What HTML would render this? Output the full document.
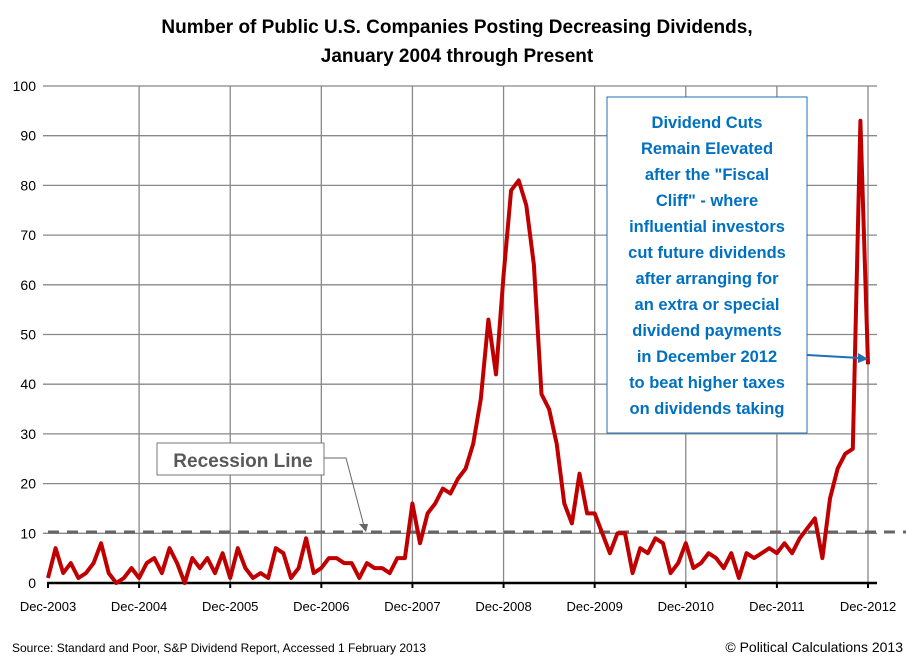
<!DOCTYPE html>
<html><head><meta charset="utf-8"><style>
body{margin:0;background:#fff;font-family:"Liberation Sans",sans-serif;}
svg{display:block}
</style></head><body>
<svg id="chart" width="915" height="663" viewBox="0 0 915 663" xmlns="http://www.w3.org/2000/svg">
<text x="457" y="33" text-anchor="middle" font-size="19" font-weight="bold" font-family="Liberation Sans, sans-serif">Number of Public U.S. Companies Posting Decreasing Dividends,</text>
<text x="457" y="62" text-anchor="middle" font-size="19" font-weight="bold" font-family="Liberation Sans, sans-serif">January 2004 through Present</text>
<g id="grid"></g>
<g id="yticks"></g>
<g id="xticks"></g>
<line x1="48" y1="532" x2="906" y2="532" stroke="#666" stroke-width="3" stroke-dasharray="11,8"/>
<path id="series" fill="none" stroke="#c00000" stroke-width="4" stroke-linejoin="round"/>
<rect x="157" y="443" width="167" height="32" fill="#fff" stroke="#777"/>
<text x="243" y="467" text-anchor="middle" font-size="19" font-weight="bold" fill="#595959">Recession Line</text>
<polyline points="324,458 346,458 364,526" fill="none" stroke="#666" stroke-width="1"/>
<polygon points="359,524 368,524 366,532" fill="#666"/>
<rect x="607" y="97" width="200" height="336" fill="#fff" stroke="#1f6fb4" stroke-width="1"/>
<g font-size="16.5" font-weight="bold" fill="#0070c0" text-anchor="middle">
<text x="707" y="128">Dividend Cuts</text>
<text x="707" y="154">Remain Elevated</text>
<text x="707" y="180">after the "Fiscal</text>
<text x="707" y="206">Cliff" - where</text>
<text x="707" y="232">influential investors</text>
<text x="707" y="258">cut future dividends</text>
<text x="707" y="284">after arranging for</text>
<text x="707" y="310">an extra or special</text>
<text x="707" y="336">dividend payments</text>
<text x="707" y="362">in December 2012</text>
<text x="707" y="388">to beat higher taxes</text>
<text x="707" y="414">on dividends taking</text>
</g>
<line x1="807" y1="355" x2="860" y2="358" stroke="#1f6fb4" stroke-width="2"/>
<polygon points="858,353 868,359 858,363" fill="#1f6fb4"/>
<text x="12" y="652" font-size="12" fill="#000">Source: Standard and Poor, S&amp;P Dividend Report, Accessed 1 February 2013</text>
<text x="903" y="652" font-size="14" text-anchor="end" fill="#000">© Political Calculations 2013</text>
</svg>
<script>
const xLabels=["Dec-2003","Dec-2004","Dec-2005","Dec-2006","Dec-2007","Dec-2008","Dec-2009","Dec-2010","Dec-2011","Dec-2012"];
const yTicks=[0,10,20,30,40,50,60,70,80,90,100];
const values=[1,
7,2,4,1,2,4,8,2,0,1,3,1,
4,5,2,7,4,0,5,3,5,2,6,1,
7,3,1,2,1,7,6,1,3,9,2,3,
5,5,4,4,1,4,3,3,2,5,5,16,
8,14,16,19,18,21,23,28,37,53,42,62,
79,81,76,64,38,35,28,16,12,22,14,14,
10,6,10,10,2,7,6,9,8,2,4,8,
3,4,6,5,3,6,1,6,5,6,7,6,
8,6,9,11,13,5,17,23,26,27,93,44];
const NS="http://www.w3.org/2000/svg";
const X0=48,X1=868,Y0=583,Y100=86,RIGHT=877;
const x=i=>X0+(X1-X0)*i/108;
const y=v=>Y0+(Y100-Y0)*v/100;
function mk(tag,attrs,parent,txt){const e=document.createElementNS(NS,tag);for(const k in attrs)e.setAttribute(k,attrs[k]);if(txt!==undefined)e.textContent=txt;parent.appendChild(e);return e;}
const grid=document.getElementById('grid'),yt=document.getElementById('yticks'),xt=document.getElementById('xticks');
yTicks.forEach(t=>{
  if(t>0){const l=mk('line',{x1:X0-5,x2:RIGHT,y1:y(t),y2:y(t),stroke:'#888','stroke-width':1.3},grid);
  
  }
  const tx=mk('text',{x:36,y:y(t)+5,'text-anchor':'end','font-size':14},yt,String(t));
  
  
});
xLabels.forEach((lab,k)=>{
  const xx=x(k*12);
  if(k>0){const l=mk('line',{x1:xx,x2:xx,y1:Y100,y2:Y0,stroke:'#888','stroke-width':1.3},grid);
  
  }
  const tk=mk('line',{x1:xx,x2:xx,y1:Y0,y2:Y0+5,stroke:'#000','stroke-width':2},xt);
  
  
  const tx=mk('text',{x:xx,y:611,'text-anchor':'middle','font-size':13},xt,lab);
  
  
});
const ax=mk('line',{x1:X0-1,x2:RIGHT,y1:Y0,y2:Y0,stroke:'#000','stroke-width':2.5},xt);


document.getElementById('series').setAttribute('d',values.map((v,i)=>(i?'L':'M')+x(i).toFixed(1)+','+y(v).toFixed(1)).join(''));
</script>
</body></html>
